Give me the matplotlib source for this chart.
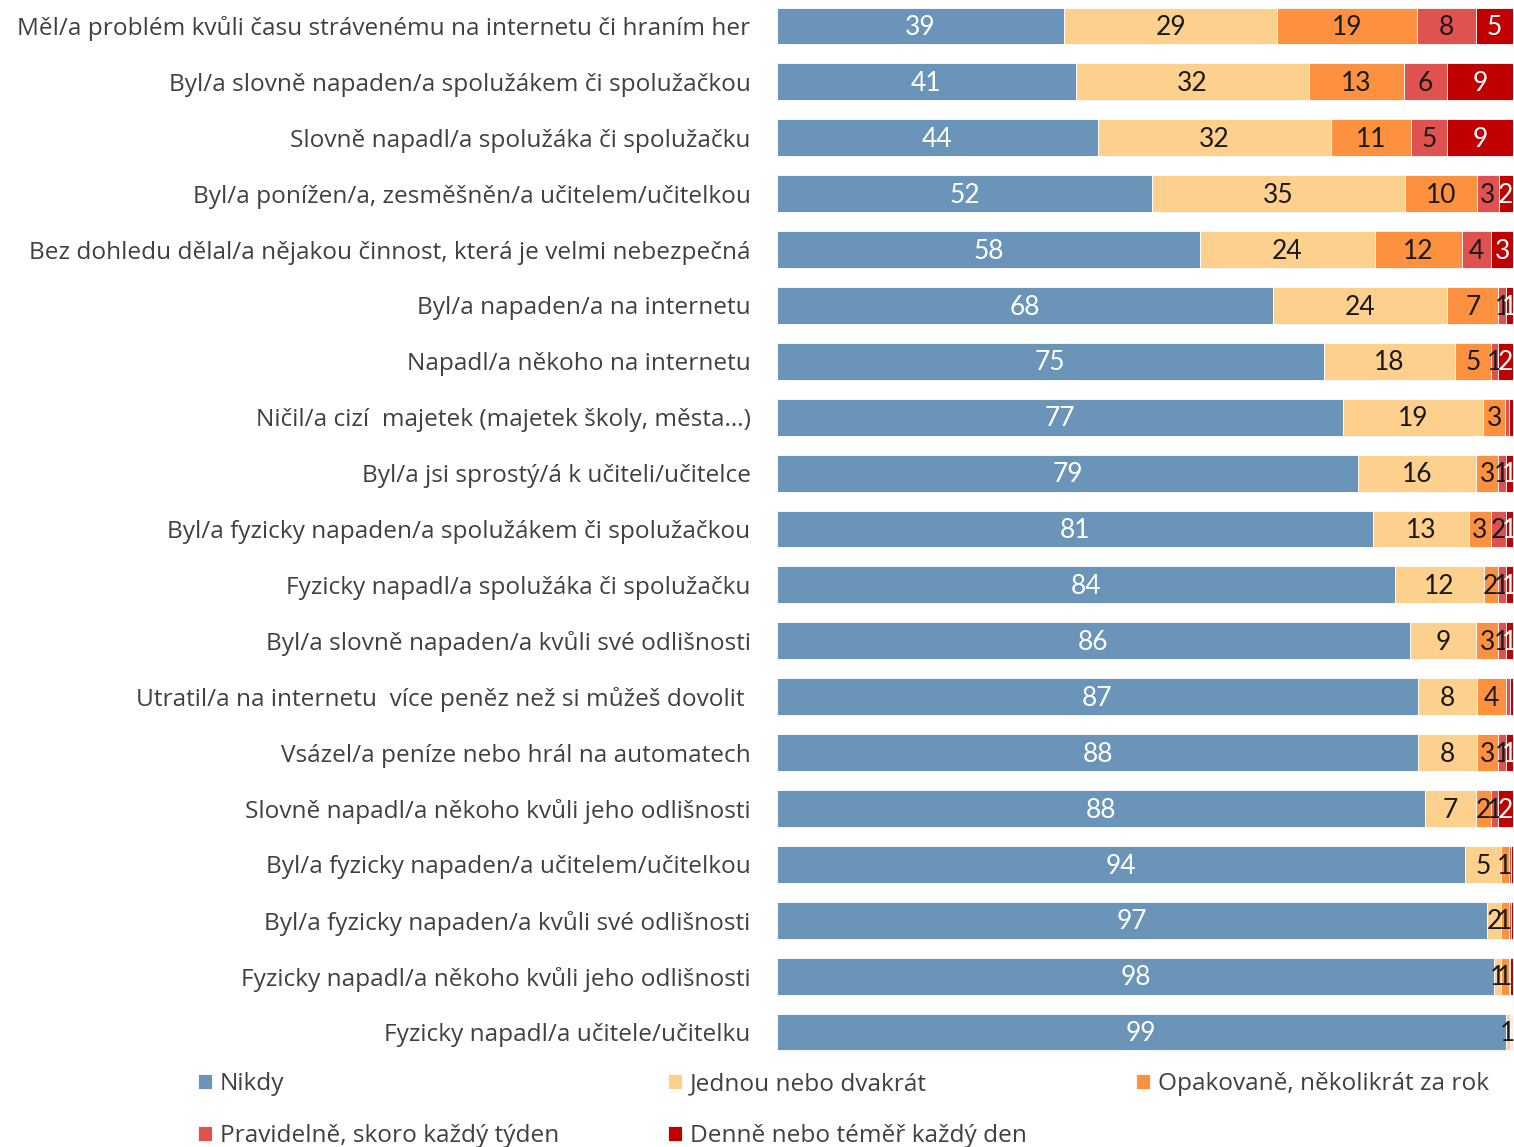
import matplotlib
matplotlib.use("Agg")
import matplotlib.pyplot as plt
import numpy as np

categories = [
    "Měl/a problém kvůli času strávenému na internetu či hraním her",
    "Byl/a slovně napaden/a spolužákem či spolužačkou",
    "Slovně napadl/a spolužáka či spolužačku",
    "Byl/a ponížen/a, zesměšněn/a učitelem/učitelkou",
    "Bez dohledu dělal/a nějakou činnost, která je velmi nebezpečná",
    "Byl/a napaden/a na internetu",
    "Napadl/a někoho na internetu",
    "Ničil/a cizí  majetek (majetek školy, města...)",
    "Byl/a jsi sprostý/á k učiteli/učitelce",
    "Byl/a fyzicky napaden/a spolužákem či spolužačkou",
    "Fyzicky napadl/a spolužáka či spolužačku",
    "Byl/a slovně napaden/a kvůli své odlišnosti",
    "Utratil/a na internetu  více peněz než si můžeš dovolit ",
    "Vsázel/a peníze nebo hrál na automatech",
    "Slovně napadl/a někoho kvůli jeho odlišnosti",
    "Byl/a fyzicky napaden/a učitelem/učitelkou",
    "Byl/a fyzicky napaden/a kvůli své odlišnosti",
    "Fyzicky napadl/a někoho kvůli jeho odlišnosti",
    "Fyzicky napadl/a učitele/učitelku",
]

series_names = ["Nikdy", "Jednou nebo dvakrát", "Opakovaně, několikrát za rok",
                "Pravidelně, skoro každý týden", "Denně nebo téměř každý den"]

nikdy      = [39, 41, 44, 52, 58, 68, 75, 77, 79, 81, 84, 86, 87, 88, 88, 94, 97, 98, 99]
jednou     = [29, 32, 32, 35, 24, 24, 18, 19, 16, 13, 12, 9, 8, 8, 7, 5, 2, 1, 0.6]
opakovane  = [19, 13, 11, 10, 12, 7, 5, 3, 3, 3, 2, 3, 4, 3, 2, 1, 1, 1, 0.1]
pravidelne = [8, 6, 5, 3, 4, 1, 1, 0.55, 1, 2, 1, 1, 0.5, 1, 1, 0.3, 0.3, 0.2, 0.1]
denne      = [5, 9, 9, 2, 3, 1, 2, 0.5, 1, 1, 1, 1, 0.4, 1, 2, 0.3, 0.3, 0.4, 0.2]

colors = ["#6A95B9", "#FED08E", "#FD9140", "#E0524F", "#C00000"]
text_colors = ["white", "#1a1a1a", "#1a1a1a", "#1a1a1a", "white"]

data = np.array([nikdy, jednou, opakovane, pravidelne, denne], dtype=float)
totals = data.sum(axis=0)
norm = data / totals * 100

fig = plt.figure(figsize=(15.14, 11.47), dpi=100)
ax = fig.add_axes([777/1514, 1 - 1060/1147, 736/1514, 1062/1147])

y = np.arange(len(categories))
left = np.zeros(len(categories))
handles = []
for i in range(5):
    bars = ax.barh(y, norm[i], left=left, height=0.66, color=colors[i],
                   edgecolor="white", linewidth=0.6, label=series_names[i])
    handles.append(bars)
    for j in range(len(categories)):
        v = data[i, j]
        if v >= 0.6:
            ax.text(left[j] + norm[i, j] / 2, y[j] + 0.03, f"{max(v, 1):.0f}",
                    ha="center", va="center", color=text_colors[i],
                    fontsize=19, family=["Lato", "DejaVu Sans"])
    left += norm[i]

ax.set_xlim(0, 100)
ax.set_ylim(len(categories) - 0.5, -0.5)
ax.set_yticks(y)
ax.set_yticklabels(categories, fontsize=17.6, color="#404040",
                   family=["Open Sans", "DejaVu Sans"])
ax.tick_params(axis="y", length=0, pad=19)
ax.set_xticks([])
for s in ax.spines.values():
    s.set_visible(False)

order = [0, 3, 1, 4, 2]
leg = fig.legend([handles[k] for k in order], [series_names[k] for k in order],
                 ncol=3, loc="lower left", bbox_to_anchor=(176/1514, -0.0198),
                 frameon=False, handlelength=0.57, handleheight=0.57,
                 handletextpad=0.33, columnspacing=4.45, labelspacing=1.12,
                 prop={"family": ["Open Sans", "DejaVu Sans"], "size": 17.6})
for t in leg.get_texts():
    t.set_color("#404040")

fig.savefig("out.png", dpi=100)
